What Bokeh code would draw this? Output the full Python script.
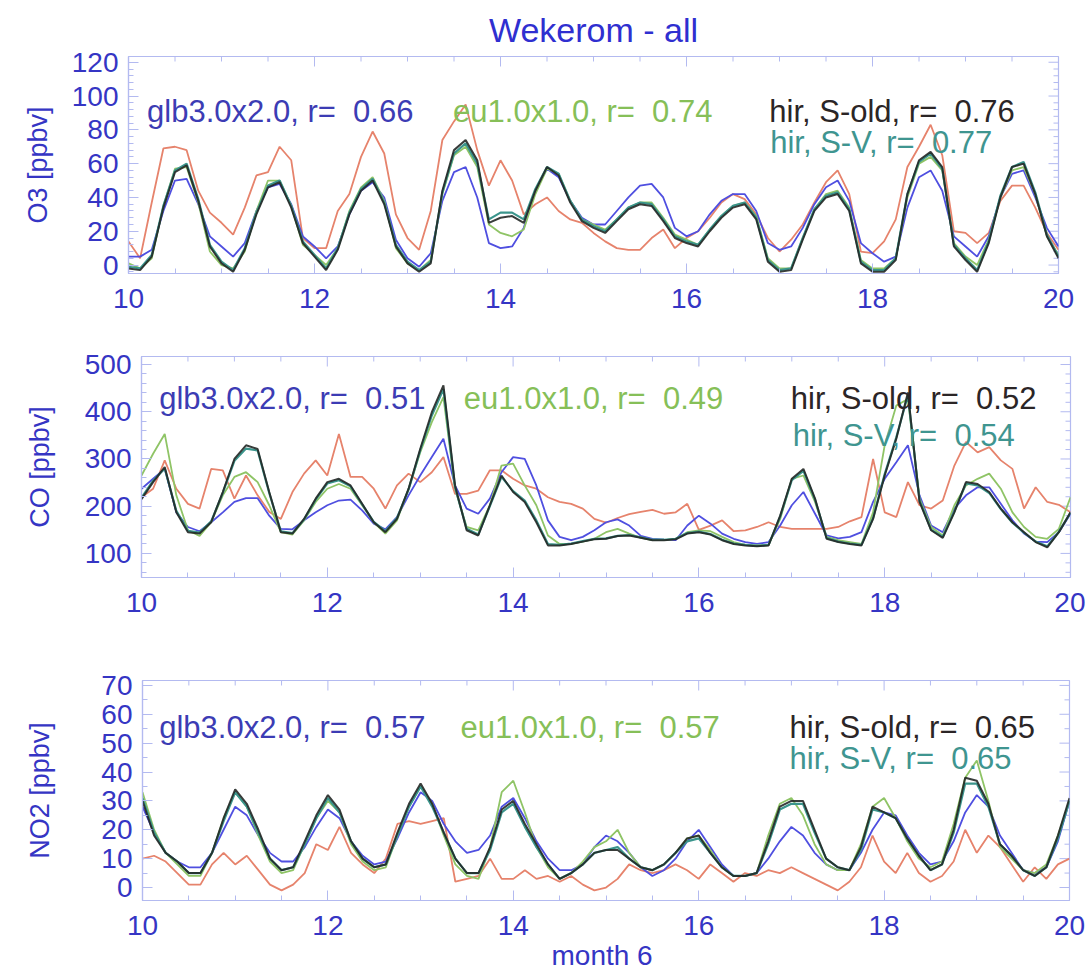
from bokeh.plotting import figure
from bokeh.layouts import column, row
from bokeh.models import Label, FixedTicker, Range1d, Title
from bokeh.embed import file_html
from bokeh.resources import INLINE

# ---------------- data (3-hourly, month 6, days 10..20) ----------------
days = [10 + i / 8 for i in range(81)]

o3_obs = [14, 4, 37, 69, 70, 68, 44, 31,
          25, 18, 34, 53, 55, 70, 62, 16,
          10, 10, 32, 42, 64, 79, 66, 30,
          16, 9, 32, 74, 85, 95, 68, 47,
          62, 50, 30, 36, 40, 32, 27, 25,
          19, 14, 10, 9, 9, 16, 21, 10,
          16, 20, 28, 37, 42, 39, 30, 16,
          8, 15, 24, 37, 49, 56, 42, 8,
          7, 14, 27, 58, 70, 83, 65, 20,
          19, 13, 19, 38, 47, 47, 34, 19,
          9]
o3_glb = [5, 5, 9, 32, 50, 51, 36, 17,
          11, 5, 13, 32, 46, 48, 36, 17,
          11, 4, 11, 30, 44, 49, 40, 15,
          4, -1, 7, 38, 55, 58, 40, 13,
          10, 11, 22, 44, 57, 52, 38, 28,
          24, 24, 32, 40, 47, 48, 40, 22,
          17, 20, 30, 38, 42, 42, 32, 13,
          9, 11, 22, 36, 46, 50, 38, 13,
          7, 2, 5, 34, 52, 56, 44, 17,
          11, 5, 17, 40, 54, 56, 40, 22,
          11]
o3_eu = [1, -2, 4, 35, 57, 58, 37, 8,
         0, -2, 8, 32, 50, 50, 35, 12,
         6, 0, 10, 32, 46, 52, 38, 10,
         1, -3, 3, 42, 65, 70, 58, 24,
         19, 17, 21, 42, 57, 54, 38, 27,
         24, 21, 27, 34, 37, 37, 28, 18,
         15, 12, 21, 29, 35, 37, 29, 4,
         -2, -2, 16, 33, 42, 44, 34, 3,
         -2, -2, 4, 40, 60, 64, 56, 13,
         5, 0, 15, 40, 56, 58, 42, 17,
         6]
o3_hir_old = [-2, -3, 5, 34, 55, 59, 38, 11,
              1, -4, 9, 30, 46, 49, 34, 13,
              5, -3, 9, 30, 44, 50, 36, 11,
              1, -4, 1, 44, 68, 74, 62, 25,
              28, 29, 25, 44, 58, 53, 37, 26,
              22, 19, 26, 33, 36, 35, 26, 16,
              13, 11, 20, 28, 34, 36, 27, 2,
              -4, -3, 15, 32, 40, 42, 32, 1,
              -4, -4, 3, 42, 62, 67, 58, 11,
              3, -4, 13, 40, 58, 60, 42, 17,
              4]
o3_hir_sv = [-1, -2, 6, 35, 56, 60, 39, 12,
             2, -3, 10, 31, 47, 50, 35, 14,
             6, -2, 10, 31, 45, 51, 37, 12,
             2, -3, 2, 43, 66, 72, 60, 27,
             31, 31, 27, 45, 58, 54, 38, 27,
             23, 20, 27, 34, 37, 36, 27, 17,
             14, 12, 21, 29, 35, 37, 28, 3,
             -3, -2, 16, 33, 41, 43, 33, 2,
             -3, -3, 4, 42, 61, 66, 57, 12,
             4, -3, 14, 41, 58, 61, 43, 18,
             5]

co_obs = [219, 237, 297, 237, 205, 195, 279, 276,
          216, 265, 223, 188, 173, 230, 269, 297,
          265, 353, 262, 262, 237, 195, 244, 269,
          251, 272, 304, 226, 226, 233, 276, 276,
          258, 244, 237, 219, 209, 205, 195, 173,
          165, 175, 183, 188, 192, 184, 187, 205,
          150, 159, 170, 147, 149, 156, 166, 156,
          152, 152, 152, 152, 156, 168, 177, 300,
          187, 177, 251, 202, 195, 212, 286, 336,
          314, 325, 297, 279, 195, 240, 209, 203,
          187]
co_glb = [237, 258, 279, 187, 156, 147, 166, 187,
          209, 217, 217, 180, 152, 151, 170, 187,
          202, 212, 214, 191, 163, 151, 177, 223,
          265, 304, 343, 244, 195, 184, 216, 272,
          304, 300, 244, 170, 135, 128, 135, 149,
          166, 172, 159, 137, 131, 129, 128, 159,
          180, 163, 142, 131, 124, 120, 124, 159,
          202, 230, 184, 138, 132, 135, 145, 209,
          258, 293, 329, 223, 159, 145, 195, 223,
          240, 240, 205, 170, 142, 125, 124, 145,
          184]
co_eu = [265, 311, 353, 223, 149, 137, 166, 223,
         262, 272, 251, 202, 145, 140, 170, 209,
         237, 247, 237, 202, 166, 142, 170, 237,
         314, 378, 431, 237, 156, 149, 202, 286,
         290, 244, 202, 138, 120, 120, 125, 131,
         145, 152, 142, 133, 128, 128, 131, 145,
         149, 147, 135, 124, 118, 117, 118, 173,
         258, 265, 209, 135, 128, 124, 120, 187,
         329, 413, 427, 216, 156, 138, 202, 244,
         258, 269, 237, 187, 156, 135, 131, 152,
         219]
co_hir_old = [215, 251, 283, 187, 145, 142, 166, 230,
              300, 329, 321, 230, 145, 142, 173, 216,
              251, 258, 244, 205, 166, 145, 173, 237,
              321, 399, 456, 244, 149, 138, 202, 265,
              230, 209, 166, 117, 117, 120, 125, 130,
              131, 137, 138, 133, 128, 128, 130, 142,
              145, 140, 128, 120, 117, 115, 117, 180,
              258, 279, 216, 131, 124, 120, 117, 173,
              265, 343, 441, 209, 149, 133, 187, 251,
              247, 230, 195, 166, 145, 124, 113, 145,
              187]
co_hir_sv = [218, 254, 280, 190, 148, 144, 168, 228,
             296, 322, 318, 228, 147, 143, 172, 214,
             248, 255, 242, 204, 167, 147, 175, 235,
             318, 392, 448, 240, 152, 140, 200, 262,
             232, 212, 170, 120, 118, 121, 126, 131,
             132, 137, 139, 134, 129, 129, 131, 143,
             146, 141, 129, 121, 118, 116, 118, 178,
             255, 275, 214, 133, 125, 121, 118, 175,
             268, 346, 435, 212, 150, 135, 189, 248,
             244, 228, 194, 165, 144, 125, 115, 146,
             186]

no2_obs = [10, 11, 9, 5, 1, 1, 8, 12,
           8, 11, 6, 1, -1, 1, 5, 15,
           13, 21, 12, 8, 5, 10, 22, 23,
           22, 23, 24, 2, 3, 4, 10, 3,
           3, 6, 3, 4, 2, 4, 1, -1,
           0, 3, 8, 6, 5, 6, 8, 6,
           3, 8, 5, 2, 5, 4, 6, 5,
           7, 5, 3, 1, -1, 2, 7, 18,
           9, 5, 12, 5, 2, 4, 9, 20,
           12, 18, 14, 8, 2, 7, 3, 8,
           10]
no2_glb = [28, 19, 12, 9, 7, 7, 12, 20,
           28, 25, 18, 12, 9, 9, 14, 21,
           27, 24, 16, 11, 8, 9, 17, 26,
           33, 30, 22, 16, 12, 13, 18, 28,
           31, 24, 16, 10, 6, 6, 8, 14,
           18, 16, 12, 7, 4, 6, 10, 16,
           20, 14, 8, 4, 4, 5, 10, 16,
           21, 18, 12, 8, 6, 6, 12, 20,
           26, 25, 18, 12, 8, 9, 16, 26,
           32, 28, 18, 12, 6, 5, 7, 16,
           30]
no2_eu = [33, 20, 12, 8, 4, 4, 12, 24,
          33, 28, 18, 9, 5, 6, 15, 24,
          30, 26, 15, 9, 6, 7, 18, 28,
          35, 29, 18, 8, 4, 3, 14, 33,
          37, 26, 14, 7, 3, 5, 9, 14,
          16, 20, 12, 7, 6, 8, 12, 17,
          18, 13, 7, 4, 4, 5, 18, 29,
          31, 25, 15, 8, 6, 6, 15, 28,
          31, 24, 16, 10, 7, 9, 22, 38,
          44, 30, 14, 10, 6, 5, 8, 18,
          30]
no2_hir_old = [30, 18, 12, 9, 5, 5, 12, 24,
               34, 29, 20, 10, 6, 7, 16, 25,
               32, 27, 16, 10, 7, 8, 19, 29,
               36, 29, 19, 10, 5, 5, 14, 27,
               30, 22, 15, 8, 3, 5, 8, 12,
               13, 13, 10, 7, 6, 8, 12, 17,
               18, 12, 7, 4, 4, 5, 16, 28,
               30, 30, 20, 10, 7, 6, 14, 28,
               26, 24, 17, 11, 6, 8, 20, 38,
               37, 29, 15, 11, 6, 4, 7, 18,
               31]
no2_hir_sv = [31, 19, 12, 9, 5, 5, 12, 23,
              33, 28, 19, 10, 6, 7, 15, 24,
              31, 26, 16, 10, 7, 8, 18, 28,
              35, 28, 19, 10, 5, 5, 13, 26,
              29, 21, 14, 8, 3, 5, 8, 12,
              13, 14, 10, 7, 6, 8, 12, 16,
              17, 12, 7, 4, 4, 5, 15, 27,
              29, 29, 19, 10, 7, 6, 13, 27,
              26, 24, 17, 11, 6, 8, 19, 36,
              36, 28, 15, 11, 6, 4, 7, 17,
              30]

x_ticks = [10, 12, 14, 16, 18, 20]
o3_ticks = [0, 20, 40, 60, 80, 100, 120]
co_ticks = [100, 200, 300, 400, 500]
no2_ticks = [0, 10, 20, 30, 40, 50, 60, 70]

r_o3 = ["0.66", "0.74", "0.76", "0.77"]
r_co = ["0.51", "0.49", "0.52", "0.54"]
r_no2 = ["0.57", "0.57", "0.65", "0.65"]

# ---------------- styling ----------------
FONT = "Liberation Sans"
AXBLUE = "#3535c4"
FRAME = "#b3baf0"
C_OBS = "#e6836c"
C_GLB = "#4f4fe0"
C_EU = "#8fc466"
C_OLD = "#232826"
C_SV = "#3b958c"
T_GLB = "#3c3cb4"
T_EU = "#86bf58"
T_OLD = "#2b2526"
T_SV = "#3f9590"
GAP = " \u00a0"


def minor_between(ticks, n):
    out = []
    for a, b in zip(ticks[:-1], ticks[1:]):
        for k in range(1, n):
            out.append(a + (b - a) * k / n)
    return out


def style_axis(ax):
    ax.axis_line_color = FRAME
    ax.axis_line_width = 1.2
    ax.major_tick_line_color = FRAME
    ax.minor_tick_line_color = FRAME
    ax.major_tick_in = 10
    ax.major_tick_out = 0
    ax.minor_tick_in = 5
    ax.minor_tick_out = 0
    ax.major_label_text_font = FONT
    ax.major_label_text_color = AXBLUE
    ax.major_label_text_font_size = "28px"
    ax.major_label_standoff = 10


def make_panel(height, left, right, top, bottom, yr, yticks, ylabel, ylabel_standoff,
               obs, glb, eu, old, sv, rvals, txt_pos, n_minor):
    p = figure(width=1085, height=height, x_range=Range1d(10, 20), y_range=Range1d(*yr),
               output_backend="svg", toolbar_location=None, tools="",
               min_border_left=left, min_border_right=right,
               min_border_top=top, min_border_bottom=bottom)
    p.background_fill_color = "white"
    p.border_fill_color = "white"
    p.outline_line_color = FRAME
    p.outline_line_width = 1.2
    p.grid.visible = False

    step = yticks[1] - yticks[0]
    ext = [yticks[0] - step] + yticks + [yticks[-1] + step]
    y_minor = [v for v in minor_between(ext, n_minor) if yr[0] <= v <= yr[1]]
    x_minor = minor_between(x_ticks, 4)

    p.xaxis.ticker = FixedTicker(ticks=x_ticks, minor_ticks=x_minor)
    p.yaxis.ticker = FixedTicker(ticks=yticks, minor_ticks=y_minor)
    style_axis(p.xaxis[0])
    style_axis(p.yaxis[0])
    p.xaxis.major_label_standoff = 15
    p.yaxis.axis_label = ylabel
    p.yaxis.axis_label_text_font = FONT
    p.yaxis.axis_label_text_font_style = "normal"
    p.yaxis.axis_label_text_font_size = "27px"
    p.yaxis.axis_label_text_color = AXBLUE
    p.yaxis.axis_label_standoff = ylabel_standoff

    # inward ticks on the right and top edges of the frame
    fw = 1085 - left - right
    fh = height - top - bottom
    dx = 10 / fw
    dy = (yr[1] - yr[0]) / fh
    ymaj = [v for v in yticks if yr[0] <= v <= yr[1]]
    p.segment(x0=[20] * len(ymaj), x1=[20 - 10 * dx] * len(ymaj), y0=ymaj, y1=ymaj,
              line_color=FRAME, line_width=1)
    p.segment(x0=[20] * len(y_minor), x1=[20 - 5 * dx] * len(y_minor), y0=y_minor, y1=y_minor,
              line_color=FRAME, line_width=1)
    p.segment(x0=x_ticks, x1=x_ticks, y0=[yr[1]] * len(x_ticks), y1=[yr[1] - 10 * dy] * len(x_ticks),
              line_color=FRAME, line_width=1)
    p.segment(x0=x_minor, x1=x_minor, y0=[yr[1]] * len(x_minor), y1=[yr[1] - 5 * dy] * len(x_minor),
              line_color=FRAME, line_width=1)

    p.line(days, obs, line_color=C_OBS, line_width=1.8)
    p.line(days, glb, line_color=C_GLB, line_width=1.8)
    p.line(days, eu, line_color=C_EU, line_width=1.8)
    p.line(days, sv, line_color=C_SV, line_width=2.2)
    p.line(days, old, line_color=C_OLD, line_width=2.0, line_alpha=0.9)

    (xb, xg, xk, xs, y1, y2) = txt_pos
    texts = [("glb3.0x2.0, r=" + GAP + rvals[0], xb, y1, T_GLB),
             ("eu1.0x1.0, r=" + GAP + rvals[1], xg, y1, T_EU),
             ("hir, S-old, r=" + GAP + rvals[2], xk, y1, T_OLD),
             ("hir, S-V, r=" + GAP + rvals[3], xs, y2, T_SV)]
    for t, x, y, c in texts:
        p.add_layout(Label(x=x, y=y, text=t, text_font=FONT, text_font_size="31px",
                           text_color=c, text_baseline="alphabetic", text_align="left"))
    return p


p1 = make_panel(332, 128, 27, 56, 59, (-5, 123.4), o3_ticks, "O3 [ppbv]", 16,
                o3_obs, o3_glb, o3_eu, o3_hir_old, o3_hir_sv, r_o3,
                (10.20, 13.49, 16.89, 16.90, 91.0, 72.5), 5)
p1.title = Title(text="Wekerom - all", align="center", text_font=FONT, text_font_size="34px",
                 text_font_style="normal", text_color="#2f2fd0", standoff=16)

p2 = make_panel(318, 141, 15, 24, 73, (49, 517), co_ticks, "CO [ppbv]", 27,
                co_obs, co_glb, co_eu, co_hir_old, co_hir_sv, r_co,
                (10.19, 13.47, 16.99, 17.01, 428, 350), 5)

p3 = make_panel(329, 142, 16, 30, 79, (-4.5, 71.7), no2_ticks, "NO2 [ppbv]", 43,
                no2_obs, no2_glb, no2_eu, no2_hir_old, no2_hir_sv, r_no2,
                (10.18, 13.43, 16.98, 16.98, 55.4, 44.7), 2)
p3.xaxis.axis_label = "month  6"
p3.xaxis.axis_label_text_font = FONT
p3.xaxis.axis_label_text_font_style = "normal"
p3.xaxis.axis_label_text_font_size = "28px"
p3.xaxis.axis_label_text_color = AXBLUE
p3.xaxis.axis_label_standoff = 2

layout = column(row(p1), row(p2), row(p3), spacing=0)
open("out.html", "w").write(file_html(layout, INLINE))
